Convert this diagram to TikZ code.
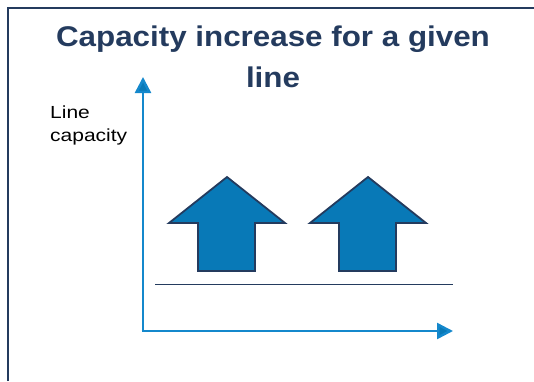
\documentclass[tikz,border=0pt]{standalone}
\usepackage{fontspec}
\setmainfont{Liberation Sans}
\newfontfamily\titlefont[FakeStretch=1.1]{Liberation Sans}
\newfontfamily\labelfont[FakeStretch=1.2]{Liberation Sans}
\usetikzlibrary{arrows.meta, positioning}
\definecolor{navy}{HTML}{243B5E}
\definecolor{capblue}{HTML}{0879B7}
\definecolor{axisblue}{HTML}{1488CC}

\begin{document}
\begin{tikzpicture}[x=1pt, y=-1pt,
    axis/.style={draw=axisblue, line width=2.5pt,
        -{Triangle[length=16pt, width=16pt, fill=capblue]}},
    uparrow/.style={draw=navy, fill=capblue, line width=1.8pt, line join=miter}]
\useasboundingbox (0,0) rectangle (534,381);
\draw[navy, line width=2pt] (7.5,381) |- (534,7.5);
\node (title) [anchor=north, align=center, text=navy,
    font=\titlefont\bfseries\fontsize{28.5}{41}\selectfont] at (273,22)
    {Capacity increase for a given\\line};
\node (ylabel) [anchor=north west, align=left, inner sep=0pt,
    font=\labelfont\fontsize{17.5}{23}\selectfont] at (50,106)
    {Line\\capacity};
\coordinate (origin) at (143,331);
\coordinate (ytop) at (143,77);
\coordinate (xend) at (453,331);
\draw[axis] (origin) -- (ytop);
\draw[axis] ([xshift=-1.25pt]origin) -- (xend);
\draw[navy, line width=1pt] (155,284) coordinate (base west) -- (453,284) coordinate (base east);
\foreach \cx in {227,368}{
    \draw[uparrow] (\cx,177) -- ++(58,46) -- ++(-30,0) -- ++(0,48)
        -- ++(-57,0) -- ++(0,-48) -- ++(-29,0) -- cycle;}
\end{tikzpicture}
\end{document}
